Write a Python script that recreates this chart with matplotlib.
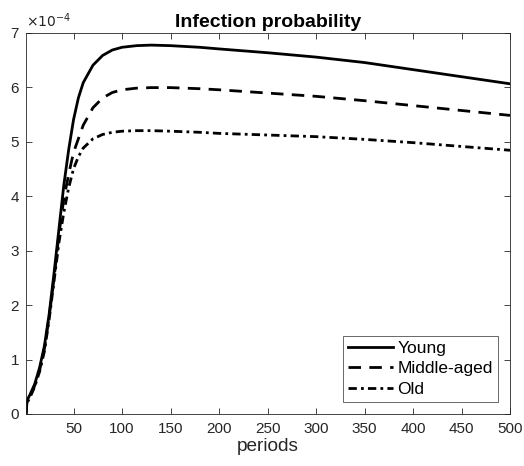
import matplotlib
matplotlib.use('agg')
import matplotlib.pyplot as plt
import numpy as np

plt.rcParams['font.family'] = ['Liberation Sans', 'DejaVu Sans']

# data (values in units of 1e-4)
periods = [1, 2, 5, 10, 15, 20, 25, 30, 35, 40, 45, 50, 55, 60, 70, 80, 90, 100,
           115, 130, 150, 180, 200, 250, 300, 350, 400, 450, 500]
young = [0, 0.25, 0.35, 0.55, 0.85, 1.25, 1.85, 2.6, 3.4, 4.2, 4.85, 5.4, 5.8, 6.08,
         6.4, 6.58, 6.68, 6.73, 6.76, 6.77, 6.76, 6.73, 6.70, 6.63, 6.55, 6.45, 6.32, 6.19, 6.06]
middle = [0, 0.22, 0.33, 0.52, 0.8, 1.2, 1.8, 2.5, 3.3, 3.95, 4.4, 4.8, 5.05, 5.3,
          5.62, 5.8, 5.9, 5.95, 5.98, 5.99, 5.99, 5.97, 5.95, 5.89, 5.83, 5.75, 5.66, 5.57, 5.48]
old = [0, 0.2, 0.3, 0.5, 0.78, 1.15, 1.75, 2.45, 3.15, 3.7, 4.15, 4.5, 4.72, 4.88,
       5.05, 5.13, 5.17, 5.19, 5.2, 5.2, 5.19, 5.17, 5.15, 5.12, 5.09, 5.04, 4.98, 4.91, 4.84]
labels = ['Young', 'Middle-aged', 'Old']

grey = '#262626'

fig = plt.figure(figsize=(5.24, 4.66), dpi=100)
ax = fig.add_axes([0.0496, 0.1116, 0.9237, 0.8185])

ax.plot(periods, young, color='k', lw=2.0, ls='-', label=labels[0])
ax.plot(periods, middle, color='k', lw=2.0, ls=(0, (4.5, 3)), label=labels[1])
ax.plot(periods, old, color='k', lw=2.0, ls=(0, (3, 1.5, 1, 1.5)), label=labels[2])

ax.set_xlim(1, 500)
ax.set_ylim(0, 7)
ax.set_xticks(np.arange(50, 501, 50))
ax.set_yticks(np.arange(0, 8, 1))
ax.tick_params(direction='in', top=True, right=True, length=4, width=0.6,
               colors=grey, labelsize=11, labelcolor=grey)
ax.tick_params(axis='x', pad=6)
ax.tick_params(axis='y', pad=5)
for s in ax.spines.values():
    s.set_color(grey)
    s.set_linewidth(0.6)

ax.text(0.0, 1.008, r'$\times10^{-4}$', transform=ax.transAxes, fontsize=10,
        color=grey, ha='left', va='bottom')

ax.set_title('Infection probability', fontsize=14, fontweight='bold', pad=4)
ax.set_xlabel('periods', fontsize=13.7, color=grey, labelpad=1)

leg = ax.legend(loc='lower right', fontsize=12.5, frameon=True, fancybox=False,
                edgecolor=grey, handlelength=2.6, handletextpad=0.25,
                borderaxespad=0.7, labelspacing=0.3, borderpad=0.3)
leg.get_frame().set_linewidth(0.6)

fig.savefig('out.png', dpi=100)
